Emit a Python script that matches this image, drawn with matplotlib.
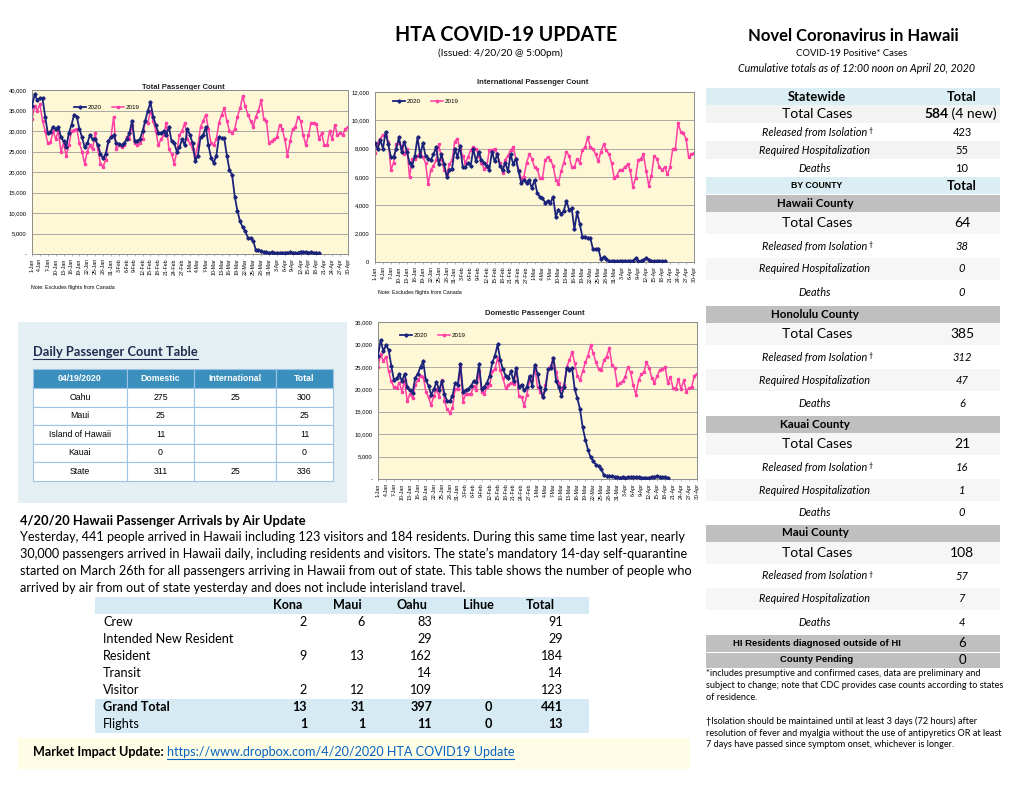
import matplotlib

matplotlib.use("Agg")
import matplotlib.pyplot as plt
import numpy as np
import pandas as pd
from matplotlib.patches import Rectangle
from matplotlib.ticker import FuncFormatter, MultipleLocator

W, H = 1020, 788
CAL = ["Lato", "DejaVu Sans"]
ARI = ["Liberation Sans", "DejaVu Sans"]
NAVY = "#1b237a"
PINK = "#ff3fa4"
plt.rcParams["font.family"] = ARI

# ---- chart data (thousands of passengers per day) ----
dates = pd.date_range("2020-01-01", "2020-04-30")
tick_labels = [f"{d.day}-{d.strftime('%b')}" for d in dates[::3]]

total_2020_k = [
    36.0, 39.0, 37.5, 38.0, 38.0, 33.5, 29.5, 29.8, 31.0, 30.5,
    31.0, 28.5, 27.5, 26.0, 29.5, 31.5, 34.0, 33.5, 30.5, 28.5,
    26.0, 27.0, 29.0, 28.0, 28.0, 26.5, 24.5, 23.3, 24.5, 27.5,
    28.5, 29.0, 27.0, 26.8, 26.5, 27.0, 28.0, 29.5, 32.5, 27.5,
    27.5, 28.0, 30.0, 32.5, 35.0, 37.0, 33.5, 31.5, 29.5, 29.5,
    30.0, 29.0, 31.0, 27.5, 27.0, 25.0, 26.0, 28.0, 26.5, 30.5,
    29.0, 27.0, 22.7, 24.0, 28.5, 29.0, 31.0, 26.5, 23.5, 22.2,
    24.0, 28.5, 28.3, 28.2, 24.0, 20.5, 19.2, 14.0, 10.5, 8.0,
    6.5, 5.5, 4.0, 3.8, 3.2, 1.0, 0.9, 0.7, 0.5, 0.5,
    0.3, 0.4, 0.2, 0.35, 0.3, 0.3, 0.35, 0.3, 0.4, 0.35,
    0.25, 0.3, 0.6, 0.5, 0.5, 0.35, 0.4, 0.3, 0.3, 0.3,
]
total_2019_k = [
    33.0, 36.0, 35.0, 36.5, 32.5, 30.0, 27.0, 27.2, 30.0, 28.0,
    30.0, 25.0, 27.0, 24.0, 26.5, 30.0, 30.3, 30.5, 27.0, 25.0,
    22.0, 25.0, 26.5, 25.5, 29.5, 25.5, 22.0, 21.3, 23.0, 27.5,
    28.5, 33.5, 25.5, 26.5, 26.0, 26.5, 28.5, 28.0, 31.5, 27.0,
    26.5, 27.0, 28.0, 32.5, 32.0, 35.0, 32.5, 30.0, 26.5, 28.0,
    29.0, 32.0, 25.5, 24.5, 22.0, 25.0, 29.0, 30.0, 32.0, 28.0,
    27.0, 25.5, 24.0, 26.5, 31.0, 32.5, 34.0, 30.5, 27.0, 26.5,
    28.0, 32.0, 34.0, 35.5, 32.5, 30.0, 29.5, 30.5, 33.5, 35.5,
    38.5, 36.0, 34.0, 32.5, 31.0, 33.5, 35.0, 37.5, 33.0, 32.5,
    27.0, 27.5, 28.0, 28.5, 31.5, 30.5, 28.0, 24.0, 27.5, 30.5,
    31.0, 33.5, 32.5, 29.0, 26.5, 29.0, 32.0, 32.0, 31.8, 28.0,
    29.5, 26.5, 26.5, 30.0, 28.0, 31.5, 29.0, 29.5, 29.0, 30.5, 31.0,
]
intl_2020_k = [
    8.4, 8.0, 8.6, 8.0, 9.2, 8.3, 7.4, 7.4, 8.0, 8.8,
    7.8, 8.5, 7.8, 7.0, 6.8, 7.5, 8.8, 7.5, 8.4, 7.5,
    7.3, 7.2, 7.6, 8.1, 6.9, 7.6, 6.9, 6.0, 6.5, 6.6,
    8.0, 7.4, 8.2, 6.7, 6.7, 7.0, 6.8, 8.0, 7.1, 7.8,
    7.2, 7.0, 6.8, 6.5, 7.8, 7.1, 7.6, 6.8, 6.5, 7.0,
    6.4, 7.6, 6.9, 7.3, 6.4, 5.6, 5.8, 5.6, 5.8, 5.2,
    5.8, 4.9, 4.6, 4.5, 4.2, 4.3, 4.2, 4.6, 3.2, 3.7,
    3.4, 3.6, 4.3, 3.7, 3.8, 2.3, 3.5, 2.7, 1.8, 1.8,
    1.7, 1.7, 0.9, 0.9, 0.95, 0.2, 0.35, 0.2, 0.05, 0.05,
    0.05, 0.05, 0.05, 0.05, 0.1, 0.05, 0.05, 0.1, 0.25, 0.05,
    0.05, 0.15, 0.3, 0.15, 0.05, 0.05, 0.05, 0.05, 0.05, 0.05,
]
intl_2019_k = [
    7.7, 8.4, 8.7, 9.0, 8.9, 8.5, 6.5, 7.0, 8.3, 8.4,
    8.2, 7.6, 8.0, 6.0, 7.3, 7.3, 7.5, 7.7, 7.4, 7.0,
    5.5, 6.5, 6.8, 7.2, 8.3, 7.3, 6.5, 6.2, 6.9, 7.2,
    8.5, 8.7, 8.0, 7.5, 7.0, 7.4, 7.9, 8.1, 8.0, 7.5,
    7.0, 6.6, 6.7, 7.9, 7.9, 8.0, 7.6, 7.0, 6.3, 7.2,
    7.5, 7.9, 8.1, 7.3, 6.5, 5.9, 6.0, 7.0, 7.6, 7.3,
    6.7, 6.6, 5.9, 5.9, 7.2, 7.4, 7.2, 6.8, 5.8, 5.5,
    6.4, 7.0, 7.8, 7.5, 6.7, 6.7, 7.3, 7.0, 7.9, 8.1,
    8.8, 8.1, 8.0, 7.6, 7.1, 7.8, 8.3, 7.9, 7.6, 7.0,
    5.9, 6.1, 6.5, 6.5, 6.7, 6.9, 6.5, 5.3, 5.9, 7.2,
    7.3, 7.6, 6.4, 5.4, 6.1, 7.5, 7.3, 6.7, 6.5, 6.7,
    6.2, 6.7, 8.0, 8.0, 9.8, 9.2, 9.1, 8.7, 7.4, 7.6, 7.7,
]
dom_2020_k = [
    27.5, 31.0, 28.5, 29.8, 28.8, 25.2, 22.0, 22.5, 23.3, 21.8,
    23.4, 20.5, 19.8, 19.2, 22.5, 23.5, 25.0, 26.2, 22.0, 20.8,
    18.8, 20.0, 21.6, 19.8, 21.8, 19.0, 17.3, 17.3, 18.5, 21.3,
    21.0, 25.6, 19.3, 19.8, 20.0, 20.8, 21.8, 21.6, 25.6, 20.0,
    20.5, 21.5, 23.0, 26.0, 27.5, 30.0, 26.5, 24.5, 23.0, 22.5,
    24.0, 21.8, 24.8, 20.5, 21.0, 19.8, 20.5, 23.0, 20.8, 25.5,
    23.5, 20.5, 18.2, 20.0, 24.5, 24.8, 27.0, 21.8, 20.5, 18.5,
    20.5, 24.8, 24.3, 24.8, 20.0, 18.0, 15.5, 11.5, 8.8, 6.5,
    4.8, 4.0, 3.2, 2.8, 2.2, 0.8, 0.6, 0.6, 0.6, 0.4,
    0.4, 0.3, 0.4, 0.3, 0.4, 0.4, 0.35, 0.4, 0.35, 0.3,
    0.3, 0.25, 0.3, 0.5, 0.45, 0.7, 0.4, 0.4, 0.35, 0.3,
]
dom_2019_k = [
    25.0, 27.8, 26.3, 27.3, 24.0, 21.8, 20.5, 20.3, 21.5, 19.5,
    22.0, 17.3, 19.0, 18.0, 21.0, 22.0, 23.0, 22.8, 19.5, 18.2,
    16.5, 18.5, 20.0, 18.3, 22.0, 17.5, 15.5, 14.8, 15.8, 20.0,
    20.0, 25.0, 17.2, 19.0, 19.0, 19.0, 20.8, 19.8, 24.0, 19.5,
    19.0, 20.5, 21.0, 24.0, 24.5, 27.0, 24.3, 22.5, 20.2, 21.0,
    21.5, 21.2, 24.5, 18.5, 18.3, 16.3, 18.8, 22.0, 22.0, 25.0,
    20.5, 19.5, 18.2, 21.0, 24.5, 25.2, 27.0, 23.8, 21.5, 20.0,
    21.0, 25.0, 26.5, 28.3, 25.8, 23.0, 22.0, 24.0, 26.0, 27.5,
    29.8, 28.0, 26.0, 24.5, 24.2, 26.5, 27.3, 29.2, 25.5, 24.8,
    21.0, 21.3, 21.8, 22.8, 25.0, 23.8, 21.0, 18.8, 22.0, 23.3,
    23.8, 26.0, 24.8, 22.5, 21.5, 23.0, 24.3, 24.5, 25.0, 21.5,
    22.7, 20.2, 20.0, 22.3, 20.0, 22.0, 19.5, 20.3, 20.5, 23.0, 23.5,
]

# ---- daily passenger count table ----
dp_cols = ["04/19/2020", "Domestic", "International", "Total"]
dp_rows = ["Oahu", "Maui", "Island of Hawaii", "Kauai", "State"]
dp_domestic = [275, 25, 11, 0, 311]
dp_international = [25, None, None, None, 25]
dp_total = [300, 25, 11, 0, 336]

# ---- arrivals by air table ----
arr_cols = ["Kona", "Maui", "Oahu", "Lihue", "Total"]
arr_rows = ["Crew", "Intended New Resident", "Resident", "Transit", "Visitor", "Grand Total", "Flights"]
arr_kona = [2, None, 9, None, 2, 13, 1]
arr_maui = [6, None, 13, None, 12, 31, 1]
arr_oahu = [83, 29, 162, 14, 109, 397, 11]
arr_lihue = [None, None, None, None, None, 0, 0]
arr_total = [91, 29, 184, 14, 123, 441, 13]

paragraph = [
    "Yesterday, 441 people arrived in Hawaii including 123 visitors and 184 residents. During this same time last year, nearly",
    "30,000 passengers arrived in Hawaii daily, including residents and visitors. The state\u2019s mandatory 14-day self-quarantine",
    "started on March 26th for all passengers arriving in Hawaii from out of state. This table shows the number of people who",
    "arrived by air from out of state yesterday and does not include interisland travel.",
]

# ---- case counts ----
sw_labels = ["Total Cases", "Released from Isolation", "Required Hospitalization", "Deaths"]
sw_values = [584, 423, 55, 10]
sw_new = 4
counties = ["Hawaii County", "Honolulu County", "Kauai County", "Maui County"]
county_cases = [64, 385, 21, 108]
county_released = [38, 312, 16, 57]
county_hosp = [0, 47, 1, 7]
county_deaths = [0, 6, 0, 4]
outside_hi = 6
county_pending = 0

footnotes = [
    "*includes presumptive and confirmed cases, data are preliminary and",
    "subject to change; note that CDC provides case counts according to states",
    "of residence.",
    "",
    "\u2020Isolation should be maintained until at least 3 days (72 hours) after",
    "resolution of fever and myalgia without the use of antipyretics OR at least",
    "7 days have passed since symptom onset, whichever is longer.",
]

fig = plt.figure(figsize=(W / 100, H / 100), dpi=100)
ax0 = fig.add_axes([0, 0, 1, 1])
ax0.set_xlim(0, W)
ax0.set_ylim(H, 0)
ax0.axis("off")
R = fig.canvas.get_renderer()


def box(x0, y0, x1, y1, fc, ec="none", lw=0.0):
    ax0.add_patch(Rectangle((x0, y0), x1 - x0, y1 - y0, facecolor=fc, edgecolor=ec, linewidth=lw))


def txt(x, y, s, size, ha="center", weight="normal", style="normal", family=CAL, color="black"):
    return ax0.text(x, y, s, fontsize=size, ha=ha, va="center", fontweight=weight,
                    fontstyle=style, family=family, color=color)


def width(t):
    return t.get_window_extent(R).width


def fit(t, w):
    t.set_fontsize(t.get_fontsize() * w / width(t))
    return t.get_fontsize()


def underline(t, color):
    bb = t.get_window_extent(R)
    ax0.plot([bb.x0, bb.x1], [H - bb.y0 + 0.5] * 2, color=color, lw=0.8)


def row_label(y, lab, dagger):
    # italic label, with a small raised dagger after "Isolation"
    t = txt(LX - 2, y, lab, 7.8, style="italic")
    if dagger:
        txt(t.get_window_extent(R).x1 + 0.5, y - 2, "\u2020", 5, ha="left")


# ---- headers ----
fit(txt(506, 35, "HTA COVID-19 UPDATE", 15, weight="bold"), 222)
fit(txt(500, 53, "(Issued: 4/20/20 @ 5:00pm)", 6), 125)
fit(txt(853, 36, "Novel Coronavirus in Hawaii", 12, weight="bold"), 210)
fit(txt(852, 53, "COVID-19 Positive* Cases", 8), 111)
fit(txt(857, 68, "Cumulative totals as of 12:00 noon on April 20, 2020", 7, style="italic"), 237)


# ---- passenger charts ----
def chart(x0, y0, x1, y1, s2020, s2019, ymax, step, zero, title, tx, ty, lx, ly, note_xy):
    ax = fig.add_axes([x0 / W, 1 - y1 / H, (x1 - x0) / W, (y1 - y0) / H])
    ax.set_facecolor("#fff8d6")
    days = np.arange(len(dates))
    ax.plot(days[:len(s2020)], np.array(s2020) * 1000, color=NAVY, lw=1.3, marker="D", ms=1.7,
            label="2020", zorder=3)
    ax.plot(days[:len(s2019)], np.array(s2019) * 1000, color=PINK, lw=1.1, marker="s", ms=1.7,
            label="2019", zorder=2)
    ax.set_xlim(0, len(dates) - 1)
    ax.set_ylim(0, ymax)
    ax.yaxis.set_major_locator(MultipleLocator(step))
    ax.yaxis.set_major_formatter(FuncFormatter(lambda v, p: f"{v:,.0f}" if v else zero))
    ax.set_xticks(days[::3])
    ax.set_xticklabels(tick_labels, rotation=90, fontsize=3.8)
    ax.tick_params(axis="y", labelsize=4.2, length=0, pad=4)
    ax.tick_params(axis="x", length=1.5, width=0.4, pad=1.5, color="#808080")
    ax.grid(axis="y", color="#9c9c9c", lw=0.6)
    ax.set_axisbelow(True)
    for sp in ax.spines.values():
        sp.set_color("#8c8c8c")
        sp.set_linewidth(0.7)
    ax.legend(loc="center left", bbox_to_anchor=(lx, ly), bbox_transform=ax0.transData, ncol=2,
              frameon=False, fontsize=4.5, handlelength=2.0, handletextpad=0.2, columnspacing=1.6,
              borderaxespad=0, borderpad=0)
    txt(tx, ty, title, 5.5, weight="bold", family=ARI, color="#222222")
    if note_xy:
        txt(note_xy[0], note_xy[1], "Note: Excludes flights from Canada", 3.8, ha="left", family=ARI)
    return ax


# light blue panel behind daily table
box(18, 322, 347, 503, "#e3eff2")

chart(32, 90, 348, 254, total_2020_k, total_2019_k, 40000, 5000, "-", "Total Passenger Count",
      183, 87, 74, 107, (31, 287))
chart(375, 92, 694, 262, intl_2020_k, intl_2019_k, 12000, 2000, "0", "International Passenger Count",
      533, 82, 393, 101, (378, 292))
chart(378, 322, 697, 479, dom_2020_k, dom_2019_k, 35000, 5000, "-", "Domestic Passenger Count",
      535, 313, 400, 335, None)

# ---- daily passenger count table ----
t = txt(33, 352, "Daily Passenger Count Table", 8.5, ha="left", weight="bold", color="#1f2d50")
fit(t, 165)
underline(t, "#1f2d50")
col_x = [33, 127, 194, 276, 333]
hdr_y0, hdr_y1, row_h = 369, 388, 18.5
border = "#9dc3e6"
for j, c in enumerate(dp_cols):
    box(col_x[j], hdr_y0, col_x[j + 1], hdr_y1, "#3a8fbd", border, 0.8)
    txt((col_x[j] + col_x[j + 1]) / 2, (hdr_y0 + hdr_y1) / 2, c, 6.3, weight="bold", family=ARI, color="white")
for i, name in enumerate(dp_rows):
    ya = hdr_y1 + i * row_h
    cells = [name, dp_domestic[i], dp_international[i], dp_total[i]]
    for j, v in enumerate(cells):
        box(col_x[j], ya, col_x[j + 1], ya + row_h, "white", border, 0.8)
        if v is not None:
            txt((col_x[j] + col_x[j + 1]) / 2, ya + row_h / 2, str(v), 6.3, family=ARI)

# ---- arrivals paragraph ----
fit(txt(20, 521, "4/20/20 Hawaii Passenger Arrivals by Air Update", 10, ha="left", weight="bold"), 285)
p0 = txt(20, 537, paragraph[0], 10, ha="left")
psize = fit(p0, 662)
for k, line in enumerate(paragraph[1:], start=1):
    txt(20, 537 + 17 * k, line, psize, ha="left")

# ---- arrivals table ----
box(95, 597, 589, 614, "#d6eaf3")
box(95, 699, 589, 733, "#d6eaf3")
hdr_cx = [288, 347, 412, 478, 540]
val_rx = [307, 365, 432, 492, 563]
for c, x in zip(arr_cols, hdr_cx):
    txt(x, 605, c, psize, weight="bold")
arr_cols_vals = [arr_kona, arr_maui, arr_oahu, arr_lihue, arr_total]
for i, name in enumerate(arr_rows):
    y = 622 + 17 * i
    bold = name in ("Grand Total", "Flights")
    txt(103, y, name, psize, ha="left", weight="bold" if name == "Grand Total" else "normal")
    for vals, rx in zip(arr_cols_vals, val_rx):
        if vals[i] is not None:
            txt(rx, y, str(vals[i]), psize, ha="right", weight="bold" if bold else "normal")

# ---- market impact ----
box(18, 738, 690, 769, "#fffde6")
m1 = txt(33, 752, "Market Impact Update: ", psize, ha="left", weight="bold")
lx = m1.get_window_extent(R).x1
m2 = txt(lx, 752, "https://www.dropbox.com/4/20/2020 HTA COVID19 Update", psize, ha="left", color="#0563c1")
underline(m2, "#0563c1")

# ---- statewide / county table ----
TX0, TX1 = 706, 1000
LX, VX = 817, 962
box(TX0, 88, TX1, 105, "#daeef3")
txt(LX, 96.5, "Statewide", 9.3, weight="bold")
txt(VX, 96.5, "Total", 9.3, weight="bold")
sw_y = [114, 132, 150, 168]
for i, (lab, val) in enumerate(zip(sw_labels, sw_values)):
    y = sw_y[i]
    if i % 2 == 0:
        box(TX0, y - 9, TX1, y + 9, "#f3f3f3")
    if i == 0:
        txt(LX, y, lab, 10)
        n = txt(997, y, f" ({sw_new} new)", 10, ha="right")
        txt(n.get_window_extent(R).x0, y, str(val), 10, ha="right", weight="bold")
    else:
        row_label(y, lab, i == 1)
        txt(VX, y, str(val), 8)

box(TX0, 177, TX1, 194, "#daeef3")
txt(LX, 185.5, "BY COUNTY", 6.3, weight="bold", family=ARI)
txt(VX, 185.5, "Total", 9.3, weight="bold")

county_hdr_y = [203, 314, 424, 533]
offsets = [20, 43, 66, 89]
for k, name in enumerate(counties):
    hy = county_hdr_y[k]
    box(TX0, hy - 8.5, TX1, hy + 8.5, "#bfbfbf")
    txt(815, hy, name, 8.3, weight="bold")
    vals = [county_cases[k], county_released[k], county_hosp[k], county_deaths[k]]
    for i, (lab, v) in enumerate(zip(sw_labels, vals)):
        y = hy + offsets[i]
        if i % 2 == 0:
            box(TX0, y - 11, TX1, y + 11, "#f6f6f6")
        if i == 0:
            txt(LX, y, lab, 10)
            txt(VX, y, str(v), 10)
        else:
            row_label(y, lab, i == 1)
            txt(VX, y, str(v), 8, style="italic")

box(TX0, 635, TX1, 651.5, "#bfbfbf")
box(TX0, 652.5, TX1, 668, "#bfbfbf")
txt(LX, 643, "HI Residents diagnosed outside of HI", 6.8, weight="bold", family=ARI)
txt(VX, 643, str(outside_hi), 9.5)
txt(LX, 660, "County Pending", 6.8, weight="bold", family=ARI)
txt(VX, 660, str(county_pending), 9.5)

f1 = txt(706, 686, footnotes[1], 7, ha="left")
fsize = fit(f1, 297)
for k, line in enumerate(footnotes):
    if k != 1 and line:
        txt(706, 674 + 11.8 * k, line, fsize, ha="left")

fig.savefig("out.png", dpi=100)
